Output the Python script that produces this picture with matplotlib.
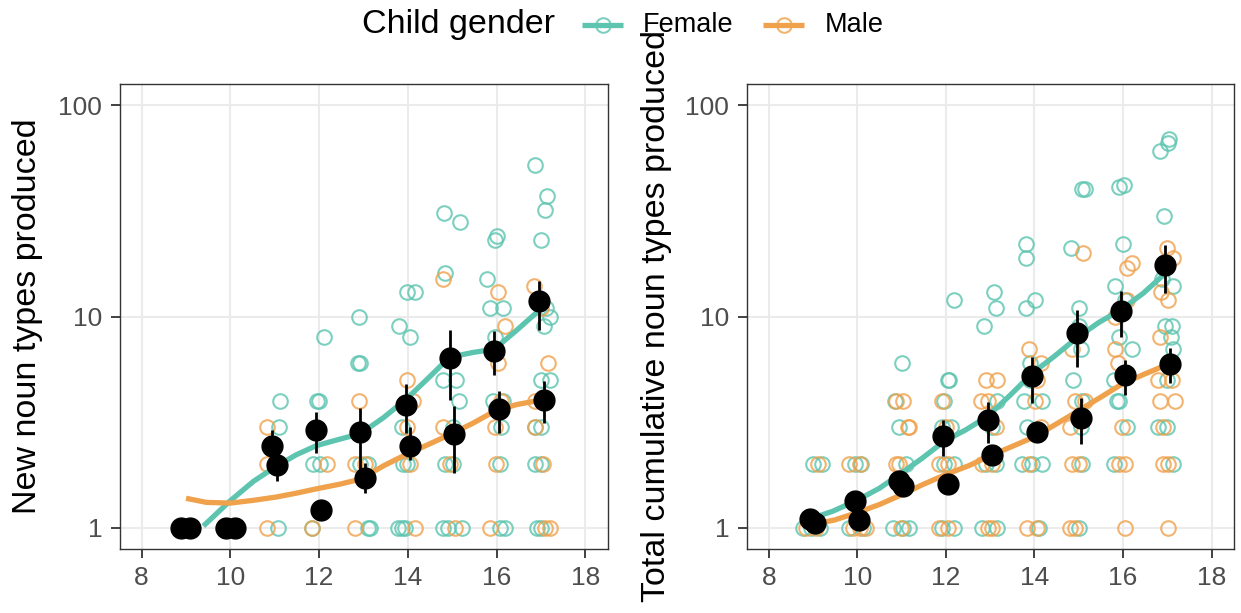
import matplotlib
matplotlib.use("Agg")
import matplotlib.pyplot as plt
from matplotlib.lines import Line2D
import numpy as np

plt.rcParams['font.family'] = ['Liberation Sans', 'DejaVu Sans']

TEAL = "#5CC4AF"
ORANGE = "#EFA14C"

# ---------------- Left panel: new noun types ----------------
new_f_x = [9.84, 10.14,
           11.10, 11.12, 11.04, 11.08,
           11.99, 11.96, 12.11, 11.87, 12.02, 11.83,
           12.90, 12.88, 12.93, 12.92, 13.11, 13.11, 13.14,
           13.80, 14.04, 13.98, 14.16, 13.86, 13.89, 13.97, 13.78, 13.86, 13.93,
           14.82, 15.17, 14.83, 14.79, 15.09, 15.15, 15.02, 14.83, 15.02, 14.91, 15.21, 14.79,
           16.00, 15.96, 15.79, 15.85, 16.15, 15.96, 15.92, 16.15, 16.11, 16.07, 16.07, 16.18,
           16.87, 17.14, 17.08, 16.99, 17.01, 17.12, 17.20, 17.06, 16.99, 17.20, 16.86, 17.01,
           16.86, 16.99, 16.90, 16.99]
new_f_y = [1, 1,
           3, 4, 2, 1,
           4, 4, 8, 2, 2, 1,
           10, 6, 6, 2, 2, 1, 1,
           9, 8, 13, 13, 3, 2, 2, 1, 1, 1,
           31, 28, 16, 5, 5, 4, 3, 2, 2, 1, 1, 1,
           24, 23, 15, 11, 11, 8, 4, 4, 3, 2, 1, 1,
           52, 37, 32, 23, 12, 11, 10, 9, 5, 5, 3, 3,
           2, 2, 1, 1]

new_m_x = [10.05,
           10.82, 10.82, 10.82,
           12.17, 11.83,
           12.90, 12.80, 13.03, 12.80,
           13.97, 14.12, 13.97, 14.04, 14.16,
           14.79, 14.79, 14.94, 15.06,
           16.03, 16.18, 16.03, 16.11, 15.96, 15.99, 15.85,
           16.84, 16.99, 17.17, 16.86, 16.86, 17.05, 17.08, 17.20]
new_m_y = [1,
           3, 2, 1,
           2, 1,
           4, 2, 2, 1,
           5, 4, 3, 2, 1,
           15, 3, 2, 1,
           13, 9, 6, 4, 3, 2, 1,
           14, 11, 6, 4, 3, 2, 1, 1]

new_f_smooth_x = [9.39, 9.99, 10.52, 11.04, 11.49, 11.94, 12.47, 12.93, 13.44, 13.95,
                  14.46, 14.94, 15.47, 15.95, 16.45, 16.96]
new_f_smooth_y = [1.02, 1.34, 1.66, 1.96, 2.22, 2.45, 2.63, 2.79, 3.31, 4.04,
                  5.11, 6.42, 6.76, 7.01, 8.6, 10.7]
new_m_smooth_x = [9.0, 9.46, 10.0, 10.52, 11.04, 11.49, 11.94, 12.47, 12.93, 13.44,
                  13.95, 14.46, 14.94, 15.47, 15.95, 16.45, 16.96]
new_m_smooth_y = [1.38, 1.32, 1.31, 1.35, 1.40, 1.46, 1.53, 1.61, 1.70, 1.96,
                  2.22, 2.48, 2.76, 3.13, 3.56, 3.83, 4.01]

new_f_mean_x = [8.88, 9.90, 10.93, 11.94, 12.93, 13.95, 14.94, 15.95, 16.96]
new_f_mean = [1, 1, 2.43, 2.91, 2.84, 3.83, 6.36, 6.88, 11.8]
new_f_lo = [1, 1, 2.03, 2.26, 1.82, 2.81, 4.04, 5.30, 8.66]
new_f_hi = [1, 1, 2.91, 3.55, 3.69, 4.80, 8.66, 8.50, 14.7]
new_m_mean_x = [9.09, 10.10, 11.04, 12.04, 13.04, 14.04, 15.05, 16.05, 17.06]
new_m_mean = [1, 1, 1.99, 1.22, 1.72, 2.45, 2.79, 3.65, 4.01]
new_m_lo = [1, 1, 1.66, 1.12, 1.46, 2.10, 1.82, 2.81, 3.13]
new_m_hi = [1, 1, 2.30, 1.33, 2.03, 3.00, 3.76, 4.43, 4.93]

# ---------------- Right panel: total cumulative noun types ----------------
cum_f_x = [9.00, 9.19, 8.77, 8.96, 9.15,
           9.94, 10.09, 9.82, 10.12,
           11.00, 10.84, 10.93, 11.10, 10.80, 11.02, 11.17,
           12.19, 12.07, 12.04, 11.96, 11.92, 12.11, 11.96, 12.19, 11.92, 12.19,
           13.09, 13.12, 12.86, 13.16, 13.05, 12.90, 13.12, 12.82, 13.16,
           13.81, 13.80, 14.02, 13.81, 13.89, 13.91, 13.76, 14.17, 13.84, 13.72, 13.95, 14.17, 14.10,
           15.07, 15.15, 14.83, 15.00, 15.00, 15.04, 14.87, 15.07, 15.04, 15.07, 15.00,
           15.90, 16.03, 16.01, 15.82, 16.05, 15.90, 16.20, 15.79, 15.90, 15.86, 16.09, 15.79,
           16.84, 17.04, 17.02, 16.93, 16.87, 17.14, 16.95, 17.10, 17.08, 17.14, 16.99, 16.80,
           16.99, 17.14]
cum_f_y = [2, 2, 1, 1, 1,
           2, 2, 1, 1,
           6, 4, 3, 2, 1, 1, 1,
           12, 5, 5, 4, 3, 3, 2, 2, 1, 1,
           13, 11, 9, 4, 3, 2, 2, 1, 1,
           22, 19, 12, 11, 6, 5, 4, 4, 3, 2, 2, 2, 1,
           40, 40, 21, 11, 9, 7, 5, 4, 3, 2, 1,
           41, 42, 22, 14, 12, 8, 7, 5, 4, 4, 3, 2,
           61, 69, 66, 30, 15, 14, 9, 9, 8, 7, 5, 3,
           3, 2]

cum_m_x = [9.11, 8.85, 9.07,
           9.82, 10.05, 9.90, 10.05, 10.20,
           10.87, 11.02, 11.17, 11.14, 10.95, 10.87, 10.99,
           11.92, 12.00, 11.85, 12.04, 11.85, 12.04,
           12.90, 13.16, 12.79, 12.94, 13.12, 12.82, 13.05, 12.94, 13.05,
           13.87, 14.14, 14.06, 14.02, 14.14, 13.87, 13.84, 14.06,
           15.10, 14.85, 14.92, 15.15, 14.81, 14.85, 15.00, 14.81, 14.92,
           16.20, 16.09, 16.09, 15.82, 15.82, 15.88, 15.97, 15.90, 16.05, 16.05,
           16.99, 17.14, 16.86, 17.02, 16.84, 16.80, 17.10, 16.84, 17.17, 16.91, 16.91, 17.02, 17.02]
cum_m_y = [2, 1, 1,
           2, 2, 1, 1, 1,
           4, 4, 3, 3, 2, 2, 1,
           4, 3, 2, 2, 1, 1,
           5, 5, 4, 4, 3, 2, 2, 1, 1,
           7, 6, 5, 4, 3, 2, 1, 1,
           20, 7, 4, 4, 3, 2, 2, 1, 1,
           18, 17, 12, 10, 7, 6, 3, 2, 2, 1,
           21, 19, 13, 12, 8, 5, 5, 4, 4, 3, 2, 2, 1]

cum_f_smooth_x = [8.92, 9.45, 9.99, 10.50, 10.95, 11.47, 11.96, 12.45, 12.94, 13.46,
                  13.95, 14.44, 14.95, 15.45, 15.95, 16.46, 16.91]
cum_f_smooth_y = [1.10, 1.20, 1.35, 1.54, 1.79, 2.14, 2.57, 2.91, 3.37, 4.26,
                  5.39, 6.46, 7.9, 9.36, 10.75, 12.9, 15.7]
cum_m_smooth_x = [9.0, 9.49, 9.99, 10.50, 10.95, 11.47, 12.0, 12.52, 13.01, 13.50,
                  13.99, 14.47, 14.99, 15.52, 16.01, 16.54, 17.02]
cum_m_smooth_y = [1.04, 1.09, 1.18, 1.29, 1.42, 1.60, 1.79, 1.97, 2.20, 2.43,
                  2.69, 3.08, 3.58, 4.18, 4.84, 5.4, 5.95]

cum_f_mean_x = [8.92, 9.95, 10.93, 11.94, 12.94, 13.95, 14.95, 15.95, 16.95]
cum_f_mean = [1.10, 1.34, 1.66, 2.73, 3.25, 5.21, 8.34, 10.6, 17.5]
cum_f_lo = [1.05, 1.25, 1.50, 2.18, 2.52, 3.89, 5.8, 8.0, 12.9]
cum_f_hi = [1.15, 1.45, 1.85, 3.25, 3.96, 6.46, 10.7, 13.2, 21.9]
cum_m_mean_x = [9.04, 10.04, 11.03, 12.04, 13.04, 14.05, 15.04, 16.05, 17.05]
cum_m_mean = [1.06, 1.09, 1.57, 1.61, 2.22, 2.84, 3.31, 5.26, 5.95]
cum_m_lo = [1.02, 1.04, 1.45, 1.50, 2.03, 2.60, 2.48, 4.27, 4.86]
cum_m_hi = [1.10, 1.15, 1.70, 1.72, 2.45, 3.05, 4.11, 6.23, 7.08]

x_ticks = [8, 10, 12, 14, 16, 18]
y_ticks = [1, 10, 100]
y_ticklabels = ["1", "10", "100"]
legend_title = "Child gender"
legend_labels = ["Female", "Male"]
ylabels = ["New noun types produced", "Total cumulative noun types produced"]

W, H = 1241, 613
fig = plt.figure(figsize=(W / 100, H / 100), dpi=100)
fig.patch.set_facecolor("white")

bottom = 1 - 549 / H
height = (549 - 84) / H
ax1 = fig.add_axes([119.5 / W, bottom, 488 / W, height])
ax2 = fig.add_axes([746.7 / W, bottom, 487 / W, height])

panels = [
    (ax1, new_f_x, new_f_y, new_m_x, new_m_y,
     new_f_smooth_x, new_f_smooth_y, new_m_smooth_x, new_m_smooth_y,
     new_f_mean_x, new_f_mean, new_f_lo, new_f_hi,
     new_m_mean_x, new_m_mean, new_m_lo, new_m_hi),
    (ax2, cum_f_x, cum_f_y, cum_m_x, cum_m_y,
     cum_f_smooth_x, cum_f_smooth_y, cum_m_smooth_x, cum_m_smooth_y,
     cum_f_mean_x, cum_f_mean, cum_f_lo, cum_f_hi,
     cum_m_mean_x, cum_m_mean, cum_m_lo, cum_m_hi),
]

PT_MS = 10.5
PT_MEW = 1.5
PT_ALPHA = 0.8

for (ax, fx, fy, mx, my, fsx, fsy, msx, msy,
     fmx, fm, flo, fhi, mmx, mm, mlo, mhi) in panels:
    ax.set_yscale("log")
    ax.set_xlim(7.5, 18.5)
    ax.set_ylim(10 ** -0.1, 10 ** 2.1)
    ax.set_axisbelow(True)
    ax.grid(True, which="major", color="#EBEBEB", lw=1.5)
    ax.set_xticks(x_ticks)
    ax.set_yticks(y_ticks)
    ax.set_yticklabels(y_ticklabels)
    ax.yaxis.set_minor_locator(matplotlib.ticker.NullLocator())
    ax.tick_params(axis="both", which="major", length=6.5, width=1.3, color="#333333",
                   labelsize=19, labelcolor="#4D4D4D", pad=6)
    for s in ax.spines.values():
        s.set_color("#333333")
        s.set_linewidth(1.0)

    ax.plot(fx, fy, ls="none", marker="o", ms=PT_MS, mfc="none", mec=TEAL, mew=PT_MEW,
            alpha=PT_ALPHA, zorder=2)
    ax.plot(mx, my, ls="none", marker="o", ms=PT_MS, mfc="none", mec=ORANGE, mew=PT_MEW,
            alpha=PT_ALPHA, zorder=2)
    ax.plot(fsx, fsy, color=TEAL, lw=3.8, solid_capstyle="butt", zorder=3)
    ax.plot(msx, msy, color=ORANGE, lw=3.8, solid_capstyle="butt", zorder=3)
    for mxs, mv, lo, hi in [(fmx, fm, flo, fhi), (mmx, mm, mlo, mhi)]:
        mv = np.array(mv)
        yerr = [mv - np.array(lo), np.array(hi) - mv]
        ax.errorbar(mxs, mv, yerr=yerr, fmt="o", color="black", ms=15, elinewidth=2.0,
                    capsize=0, zorder=4)

fig.text(28 / W, 1 - 316.5 / H, ylabels[0], rotation=90, fontsize=24.5,
         ha="center", va="center")
fig.text(656 / W, 1 - 316.5 / H, ylabels[1], rotation=90, fontsize=24.5,
         ha="center", va="center")

# legend
ly = 1 - 25 / H
fig.text(362 / W, ly, legend_title, fontsize=24.5, ha="left", va="center")
key_x = [(582, 623, 643), (763, 804, 825)]
for (x0, x1, tx), col, lab in zip(key_x, [TEAL, ORANGE], legend_labels):
    fig.add_artist(Line2D([x0 / W, x1 / W], [ly, ly], transform=fig.transFigure,
                          color=col, lw=3.8, solid_capstyle="butt"))
    fig.add_artist(Line2D([(x0 + x1) / 2 / W], [ly], transform=fig.transFigure,
                          ls="none", marker="o", ms=PT_MS, mfc="none", mec=col,
                          mew=PT_MEW, alpha=PT_ALPHA))
    fig.text(tx / W, ly, lab, fontsize=19.5, ha="left", va="center")

fig.savefig("out.png", dpi=100)
